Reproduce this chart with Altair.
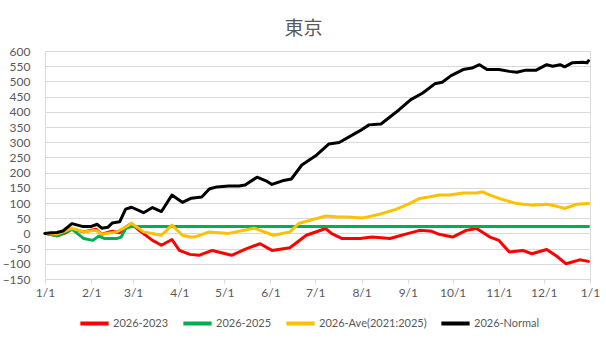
import altair as alt
import pandas as pd

series_names = ["2026-2023", "2026-2025", "2026-Ave(2021:2025)", "2026-Normal"]
series_colors = ["#FF0000", "#00B050", "#FFC000", "#000000"]

red_dates = ["01-01","01-09","01-15","01-19","01-27","02-04","02-08","02-15","02-20","02-24","02-28",
             "03-05","03-14","03-20","03-27","04-01","04-08","04-14","04-23","05-06","05-16","05-25",
             "06-02","06-14","06-25","07-08","07-12","07-19","07-31","08-08","08-20","09-02","09-09",
             "09-17","09-22","10-01","10-10","10-17","10-26","11-01","11-08","11-17","11-23","12-03",
             "12-10","12-16","12-25","12-31"]
red_vals = [0,-8,2,14,5,14,-3,7,2,21,32,
            10,-23,-39,-20,-56,-69,-72,-56,-72,-50,-34,
            -56,-47,-6,16,-1,-17,-17,-12,-17,1,10,
            7,-3,-12,10,16,-12,-23,-61,-56,-67,-53,
            -76,-100,-87,-92]

green_dates = ["01-01","01-09","01-13","01-19","01-27","02-02","02-06","02-10","02-18","02-21","02-24","02-28","12-31"]
green_vals = [0,-8,0,14,-17,-23,-9,-17,-17,-12,16,23,23]

ave_dates = ["01-01","01-09","01-19","01-27","02-04","02-08","02-18","02-24","02-28","03-08","03-20",
             "03-27","04-03","04-08","04-11","04-21","05-04","05-21","06-03","06-14","06-20","07-08",
             "07-17","07-22","08-02","08-13","08-24","09-02","09-09","09-15","09-22","09-29","10-08",
             "10-17","10-21","10-26","11-03","11-13","11-23","12-03","12-10","12-15","12-23","12-31"]
ave_vals = [0,-2,17,5,10,-3,5,21,33,5,-6,
            27,-6,-12,-12,5,0,17,-6,5,33,57,
            54,54,51,63,79,98,115,120,126,126,133,
            133,137,126,112,98,93,96,89,82,96,98]

normal_dates = ["01-01","01-05","01-09","01-13","01-19","01-26","02-01","02-05","02-08","02-12","02-15",
                "02-20","02-24","02-28","03-08","03-14","03-20","03-27","04-01","04-03","04-09","04-16",
                "04-21","04-26","05-04","05-11","05-15","05-23","05-29","06-02","06-09","06-15","06-22",
                "07-02","07-10","07-17","07-31","08-06","08-14","08-26","09-03","09-11","09-19","09-24",
                "09-30","10-08","10-14","10-19","10-24","11-01","11-08","11-13","11-19","11-26","12-03",
                "12-07","12-12","12-15","12-20","12-27","12-30","12-31"]
normal_vals = [0,2,3,8,32,23,23,30,17,20,34,
               38,80,86,68,85,72,126,109,102,116,120,
               146,153,156,156,159,185,173,161,173,179,225,
               258,294,299,338,357,360,406,440,462,492,497,
               519,539,544,555,539,539,533,530,537,537,555,
               550,555,548,561,563,561,568]

y_ticks = list(range(-150, 601, 50))

rows = []
for name, ds, vs in [(series_names[0], red_dates, red_vals),
                     (series_names[1], green_dates, green_vals),
                     (series_names[2], ave_dates, ave_vals),
                     (series_names[3], normal_dates, normal_vals)]:
    for d, v in zip(ds, vs):
        rows.append({"series": name, "date": "2026-" + d, "value": v})
df = pd.DataFrame(rows)

month_ticks = [{"year": 2026, "month": m, "date": 1, "utc": True} for m in range(1, 13)] + \
              [{"year": 2027, "month": 1, "date": 1, "utc": True}]

FONT = "Lato"
GREY = "#595959"

x_enc = alt.X("date:T",
              scale=alt.Scale(type="utc",
                              domain=[{"year": 2026, "month": 1, "date": 1, "utc": True},
                                      {"year": 2027, "month": 1, "date": 1, "utc": True}]),
              axis=alt.Axis(values=month_ticks, labelExpr="utcFormat(datum.value, '%-m/%-d')",
                            title=None,
                            grid=False, domainColor="#d9d9d9", tickColor="#d9d9d9", tickSize=4,
                            labelPadding=4, labelFontSize=12, labelColor=GREY, labelFont=FONT,
                            labelOverlap=False, labelFlush=False))
y_enc = alt.Y("value:Q",
              scale=alt.Scale(domain=[-150, 600], nice=False, zero=False),
              axis=alt.Axis(values=y_ticks, title=None, domain=False, ticks=False, tickSize=0,
                            labelPadding=15, gridColor="#d9d9d9", gridWidth=1,
                            labelFontSize=12, labelColor=GREY, labelFont=FONT))
c_enc = alt.Color("series:N",
                  scale=alt.Scale(domain=series_names, range=series_colors),
                  legend=alt.Legend(title=None, orient="none", legendX=33, legendY=256,
                                    direction="horizontal", symbolType="stroke", symbolSize=800,
                                    symbolStrokeWidth=4, labelFontSize=11, labelColor=GREY,
                                    labelFont=FONT, columnPadding=6, labelOffset=2,
                                    gridAlign="none"))

layers = []
for name in series_names:
    layers.append(
        alt.Chart(df).transform_filter(alt.datum.series == name)
        .mark_line(strokeWidth=3, strokeJoin="round", strokeCap="round")
        .encode(x=x_enc, y=y_enc, color=c_enc)
    )

chart = alt.layer(*layers).properties(
    width=545, height=228,
    title=alt.TitleParams("東京", font="Noto Sans CJK JP", fontSize=19, fontWeight="normal",
                          color=GREY, anchor="middle", offset=6, dx=-14),
    autosize=alt.AutoSizeParams(type="none"),
    padding={"left": 45, "top": 51, "right": 16, "bottom": 62},
).configure_view(stroke=None).configure(background="white")

chart.save("out.html", embed_options={"renderer": "svg", "actions": False})
